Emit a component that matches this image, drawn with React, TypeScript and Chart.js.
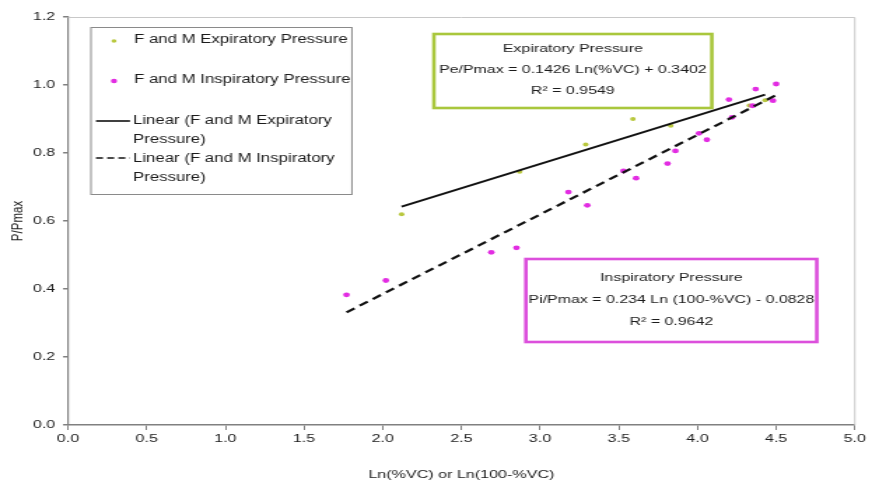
import React, { useEffect, useRef } from "react";
import { Chart, registerables } from "chart.js";

Chart.register(...registerables);

// ---- data ----
const expX = [2.12, 2.87, 3.29, 3.59, 3.83, 4.33, 4.43];
const expY = [0.62, 0.745, 0.825, 0.9, 0.88, 0.94, 0.955];
const inspX = [1.77, 2.02, 2.69, 2.85, 3.18, 3.3, 3.53, 3.61, 3.81, 3.86, 4.01, 4.06, 4.2, 4.22, 4.35, 4.37, 4.48, 4.5];
const inspY = [0.383, 0.425, 0.508, 0.521, 0.685, 0.646, 0.747, 0.726, 0.769, 0.806, 0.858, 0.839, 0.957, 0.905, 0.939, 0.988, 0.954, 1.003];
const expFit = { slope: 0.1426, intercept: 0.3402, r2: "0.9549" };
const inspFit = { slope: 0.234, intercept: -0.0828, r2: "0.9642" };
const xTicks = [0, 0.5, 1, 1.5, 2, 2.5, 3, 3.5, 4, 4.5, 5];
const yTicks = [0, 0.2, 0.4, 0.6, 0.8, 1.0, 1.2];

const seriesNames = ["F and M Expiratory Pressure", "F and M Inspiratory Pressure"];
const trendNames = [["Linear (F and M Expiratory", "Pressure)"], ["Linear (F and M Inspiratory", "Pressure)"]];
const xTitle = "Ln(%VC) or Ln(100-%VC)";
const yTitle = "P/Pmax";

const GREEN = "#b9c83f";
const MAGENTA = "#e22ce2";
const TEXT = "#1c1c1c";
const FONT = '"Liberation Sans", Arial, sans-serif';

// The reference picture is stretched horizontally; the canvas is drawn narrower and shown stretched.
const W = 872;
const H = 483;
const K = 1.4;
const CW = Math.round(W / K);
const sx = (x: number) => x / K;

function fitLine(xs: number[], fit: { slope: number; intercept: number }) {
  const lo = Math.min(...xs);
  const hi = Math.max(...xs);
  return [lo, hi].map((x) => ({ x, y: fit.slope * x + fit.intercept }));
}

const overlayPlugin = {
  id: "overlay",
  beforeDatasetsDraw(chart: any) {
    const { ctx, chartArea } = chart;
    ctx.save();
    ctx.strokeStyle = "#c8c8c8";
    ctx.lineWidth = 1;
    ctx.beginPath();
    ctx.moveTo(chartArea.left, chartArea.top + 0.5);
    ctx.lineTo(chartArea.right, chartArea.top + 0.5);
    ctx.lineTo(chartArea.right, chartArea.bottom);
    ctx.stroke();
    ctx.restore();
  },
  afterDatasetsDraw(chart: any) {
    const { ctx } = chart;
    ctx.save();
    // legend box
    ctx.fillStyle = "#fff";
    ctx.fillRect(sx(91), 27, sx(261), 167);
    ctx.strokeStyle = "#8a8a8a";
    ctx.lineWidth = 1;
    ctx.strokeRect(sx(91), 27.5, sx(261), 167);
    ctx.fillStyle = GREEN;
    ctx.beginPath();
    ctx.arc(sx(114), 41, 1.8, 0, Math.PI * 2);
    ctx.fill();
    ctx.fillStyle = MAGENTA;
    ctx.beginPath();
    ctx.arc(sx(114), 81, 2.2, 0, Math.PI * 2);
    ctx.fill();
    ctx.strokeStyle = "#111";
    ctx.lineWidth = 1.6;
    ctx.beginPath();
    ctx.moveTo(sx(96), 121);
    ctx.lineTo(sx(130), 121);
    ctx.stroke();
    ctx.setLineDash([5, 3]);
    ctx.beginPath();
    ctx.moveTo(sx(96), 158);
    ctx.lineTo(sx(130), 158);
    ctx.stroke();
    ctx.setLineDash([]);
    ctx.fillStyle = TEXT;
    ctx.font = `12px ${FONT}`;
    ctx.textBaseline = "middle";
    ctx.textAlign = "left";
    ctx.fillText(seriesNames[0], sx(134), 40);
    ctx.fillText(seriesNames[1], sx(134), 80);
    ctx.fillText(trendNames[0][0], sx(133), 121);
    ctx.fillText(trendNames[0][1], sx(133), 140);
    ctx.fillText(trendNames[1][0], sx(133), 159);
    ctx.fillText(trendNames[1][1], sx(133), 178);

    // annotation boxes
    const box = (x: number, y: number, w: number, h: number, color: string, lines: string[], ys: number[]) => {
      ctx.fillStyle = "#fff";
      ctx.fillRect(sx(x), y, sx(w), h);
      ctx.strokeStyle = color;
      ctx.lineWidth = 2.6;
      ctx.strokeRect(sx(x), y, sx(w), h);
      ctx.fillStyle = TEXT;
      ctx.font = `11.4px ${FONT}`;
      ctx.textAlign = "center";
      ctx.textBaseline = "middle";
      lines.forEach((t, i) => ctx.fillText(t, sx(x + w / 2), ys[i]));
    };
    box(434, 34, 278, 74, "#a9c73c", [
      "Expiratory Pressure",
      `Pe/Pmax = ${expFit.slope} Ln(%VC) + ${expFit.intercept}`,
      `R\u00B2 = ${expFit.r2}`,
    ], [49, 70, 91]);
    box(526, 259, 291, 83, "#dc4fdc", [
      "Inspiratory Pressure",
      `Pi/Pmax = ${inspFit.slope} Ln (100-%VC) - ${Math.abs(inspFit.intercept)}`,
      `R\u00B2 = ${inspFit.r2}`,
    ], [278, 300, 322]);
    ctx.restore();
  },
};

export default function App() {
  const ref = useRef<HTMLCanvasElement | null>(null);
  useEffect(() => {
    if (!ref.current) return;
    const tickFont = { family: FONT, size: 11.5 };
    const chart = new Chart(ref.current, {
      type: "scatter",
      data: {
        datasets: [
          {
            label: "Linear (F and M Inspiratory Pressure)",
            data: fitLine(inspX, inspFit),
            showLine: true,
            borderColor: "#111",
            borderWidth: 2.2,
            borderDash: [7, 4.5],
            pointRadius: 0,
            order: 0,
          },
          {
            label: "Linear (F and M Expiratory Pressure)",
            data: fitLine(expX, expFit),
            showLine: true,
            borderColor: "#111",
            borderWidth: 2,
            pointRadius: 0,
            order: 1,
          },
          {
            label: seriesNames[1],
            data: inspX.map((x, i) => ({ x, y: inspY[i] })),
            backgroundColor: MAGENTA,
            borderColor: MAGENTA,
            pointRadius: 2.4,
            borderWidth: 0,
            order: 2,
          },
          {
            label: seriesNames[0],
            data: expX.map((x, i) => ({ x, y: expY[i] })),
            backgroundColor: GREEN,
            borderColor: GREEN,
            pointRadius: 2,
            borderWidth: 0,
            order: 3,
          },
        ],
      },
      options: {
        animation: false,
        responsive: false,
        devicePixelRatio: 1,
        layout: { padding: { left: 0, right: CW - sx(855), top: 17, bottom: 0 } },
        plugins: { legend: { display: false }, tooltip: { enabled: false } },
        scales: {
          x: {
            type: "linear",
            min: 0,
            max: 5,
            afterBuildTicks: (s: any) => {
              s.ticks = xTicks.map((value) => ({ value }));
            },
            afterFit: (s: any) => {
              s.height = 58;
            },
            grid: { drawOnChartArea: false, drawTicks: true, tickLength: 5, color: "#808080", lineWidth: 1 },
            border: { display: true, color: "#808080", width: 1.5 },
            ticks: {
              font: tickFont,
              color: TEXT,
              padding: 2,
              maxRotation: 0,
              autoSkip: false,
              callback: (v: any) => Number(v).toFixed(1),
            },
            title: { display: true, text: xTitle, font: tickFont, color: TEXT, padding: { top: 0, bottom: 1 } },
          },
          y: {
            type: "linear",
            min: 0,
            max: 1.2,
            afterBuildTicks: (s: any) => {
              s.ticks = yTicks.map((value) => ({ value }));
            },
            afterFit: (s: any) => {
              s.width = sx(68);
            },
            grid: { drawOnChartArea: false, drawTicks: true, tickLength: 3.6, color: "#808080", lineWidth: 1.5 },
            border: { display: true, color: "#808080", width: 1.2 },
            ticks: {
              font: tickFont,
              color: TEXT,
              padding: 5.5,
              autoSkip: false,
              callback: (v: any) => Number(v).toFixed(1),
            },
            title: { display: true, text: yTitle, font: tickFont, color: TEXT, padding: { top: 6, bottom: 0 } },
          },
        },
      },
      plugins: [overlayPlugin],
    } as any);
    return () => chart.destroy();
  }, []);
  return (
    <div style={{ position: "fixed", left: 0, top: 0, width: W, height: H, background: "#fff" }}>
      <canvas ref={ref} width={CW} height={H} style={{ width: W, height: H, display: "block" }} />
    </div>
  );
}
